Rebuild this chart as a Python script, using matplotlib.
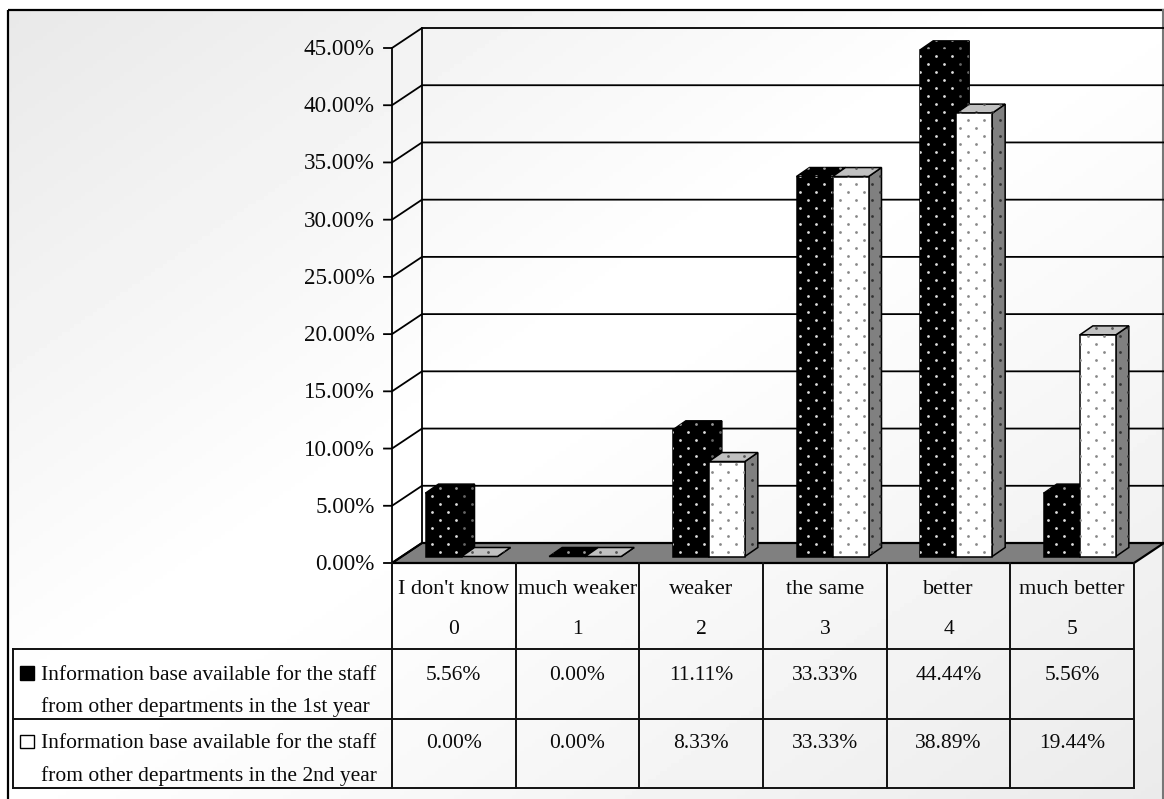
import numpy as np
import matplotlib
matplotlib.use('Agg')
import matplotlib.pyplot as plt
from matplotlib.patches import Polygon, Rectangle

plt.rcParams['font.family'] = ['Liberation Serif', 'DejaVu Serif']

W, H = 1164, 799

categories = ["I don't know", 'much weaker', 'weaker', 'the same', 'better', 'much better']
codes = ['0', '1', '2', '3', '4', '5']
year1 = [5.56, 0.00, 11.11, 33.33, 44.44, 5.56]
year2 = [0.00, 0.00, 8.33, 33.33, 38.89, 19.44]
yticks = [0, 5, 10, 15, 20, 25, 30, 35, 40, 45]
legend1 = ['Information base available for the staff', 'from other departments in the 1st year']
legend2 = ['Information base available for the staff', 'from other departments in the 2nd year']

# pixel layout of the fake 3d chart
x0, x1 = 392, 1134
y_zero, y_45 = 563, 48
dx, dy = 30, -20
cat_w = (x1 - x0) / len(categories)
bar_w = 36
bar_dx, bar_dy = 13, -9
base_y = 556.5
scale = (y_zero - y_45) / 45
bar_scale = 11.4
fs = 16.6
fs_cat = 16
fs_table = 15.5
ink = '#0a0a0a'


def val_y(v):
    return y_zero - v * scale


fig = plt.figure(figsize=(W / 100, H / 100), dpi=100)
ax = fig.add_axes([0, 0, 1, 1])
ax.set_xlim(0, W)
ax.set_ylim(H, 0)
ax.axis('off')

# diagonal background
xx, yy = np.meshgrid(np.linspace(0, 1, 300), np.linspace(0, 1, 200))
t = (xx + yy) / 2
bg = np.where(t < 0.45, 0.91 + 0.09 * t / 0.45, 1 - 0.08 * np.clip(t - 0.5, 0, 1) / 0.5)
frame = Rectangle((8, 10), W - 8 + 5, H + 5, fc='none', ec='black', lw=1.6, zorder=1)
im = ax.imshow(bg, extent=(0, W, H, 0), cmap='gray', vmin=0, vmax=1, aspect='auto', zorder=0)
ax.set_xlim(0, W)
ax.set_ylim(H, 0)
ax.add_patch(frame)
im.set_clip_path(frame)
ax.plot([W - 1, W - 1], [10, H], color='#777777', lw=1.5, zorder=1)

# walls and floor
ax.add_patch(Polygon([(x0, y_zero), (x0 + dx, y_zero + dy), (x1 + dx, y_zero + dy), (x1, y_zero)],
                     fc='#808080', ec='black', lw=1.6, zorder=2))
for v in yticks:
    y = val_y(v)
    ax.plot([x0 - 8, x0, x0 + dx, W], [y, y, y + dy, y + dy], color='black', lw=1.3, zorder=2)
    ax.text(x0 - 17, y + 1.5, '%.2f%%' % v, ha='right', va='center', fontsize=fs, color=ink, zorder=6)
ax.plot([x0, x0], [val_y(45), y_zero], color='black', lw=1.3, zorder=2)
ax.plot([x0 + dx, x0 + dx], [val_y(45) + dy, y_zero + dy], color='black', lw=1.3, zorder=2)


def face(pts, fc, dot, z):
    p = Polygon(pts, fc=fc, ec='black', lw=1.1, zorder=z)
    ax.add_patch(p)
    gx, gy = np.meshgrid(np.arange(0, W, 16), np.arange(0, H, 8))
    odd = (np.arange(0, H, 8) // 8) % 2 == 1
    gx = gx + 8 * odd[:, None]
    s = ax.scatter(gx.ravel(), gy.ravel(), s=4, color=dot, linewidths=0, zorder=z + 0.1)
    s.set_clip_path(p)


def bar(left, v, front_c, top_c, side_c, front_d, top_d, side_d, z):
    top = base_y - v * bar_scale
    right = left + bar_w
    face([(right, base_y), (right + bar_dx, base_y + bar_dy), (right + bar_dx, top + bar_dy), (right, top)],
         side_c, side_d, z)
    face([(left, top), (left + bar_dx, top + bar_dy), (right + bar_dx, top + bar_dy), (right, top)],
         top_c, top_d, z)
    if v > 0:
        face([(left, base_y), (right, base_y), (right, top), (left, top)], front_c, front_d, z + 0.2)


for i in range(len(categories)):
    left = x0 + i * cat_w + 33.5
    bar(left, year1[i], 'black', 'black', 'black', '#dddddd', '#999999', '#666666', 3 + i)
    bar(left + bar_w, year2[i], 'white', '#c0c0c0', '#808080', '#888888', '#555555', '#333333', 3.5 + i)

# data table
line = dict(color='#111111', lw=1.4, zorder=12)
for i in range(len(categories) + 1):
    x = x0 + i * cat_w
    ax.plot([x, x], [y_zero, 788], **line)
for y in [649, 719, 788]:
    ax.plot([13, x1], [y, y], **line)
ax.plot([13, 13], [649, 788], **line)

for i in range(len(categories)):
    cx = x0 + (i + 0.5) * cat_w
    ax.text(cx, 589.5, categories[i], ha='center', va='center', fontsize=fs_cat, color=ink, zorder=13)
    ax.text(cx, 630, codes[i], ha='center', va='center', fontsize=fs_table, color=ink, zorder=13)
    ax.text(cx, 675, '%.2f%%' % year1[i], ha='center', va='center', fontsize=fs_table, color=ink, zorder=13)
    ax.text(cx, 744, '%.2f%%' % year2[i], ha='center', va='center', fontsize=fs_table, color=ink, zorder=13)

for y, txt in zip([675, 707, 744, 776], legend1 + legend2):
    ax.text(41, y, txt, ha='left', va='center', fontsize=fs_table, color=ink, zorder=13)
ax.add_patch(Rectangle((20, 666), 14, 14, fc='black', ec='black', lw=1, zorder=13))
ax.add_patch(Rectangle((20, 735), 14, 13, fc='white', ec='black', lw=1, zorder=13))

fig.savefig('out.png', dpi=100)
